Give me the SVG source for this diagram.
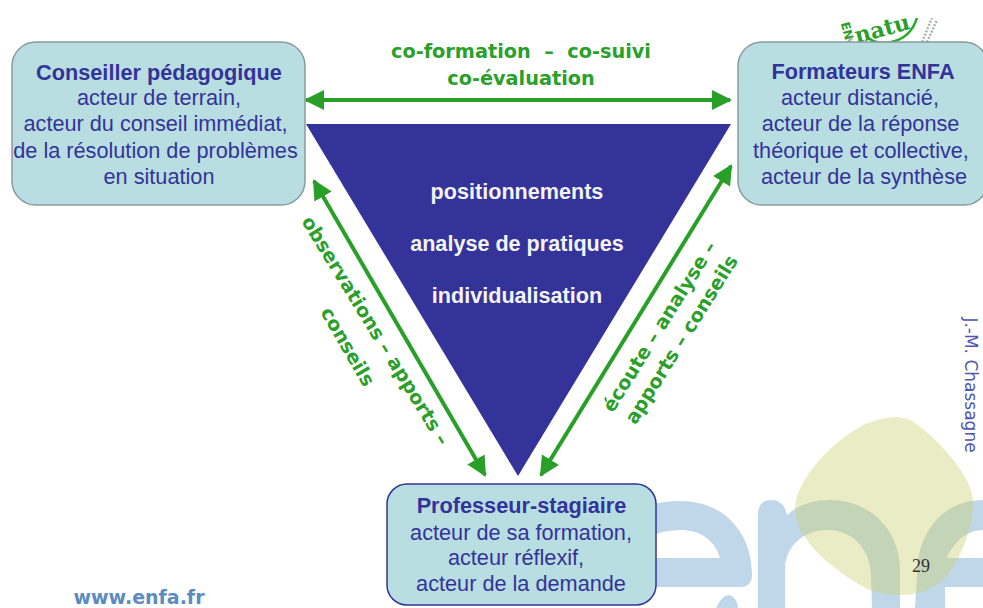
<svg xmlns="http://www.w3.org/2000/svg" width="983" height="608" viewBox="0 0 983 608">
<style>
.n{font-family:"Liberation Sans",Arial,sans-serif;font-size:21.7px;fill:#333399;text-anchor:middle}
.b{font-weight:700}
.box{fill:#b9dee2;stroke:#8a9aa0;stroke-width:1.5}
.g{font-family:"DejaVu Sans",Verdana,sans-serif;font-weight:700;font-size:19.3px;fill:#2aa02a;text-anchor:middle}
.w{font-family:"Liberation Sans",Arial,sans-serif;font-weight:700;font-size:21.6px;fill:#f4f4f8;text-anchor:middle}
.c{stroke:#28a028;stroke-width:4;fill:none;marker-start:url(#a);marker-end:url(#a)}
</style>
<defs>
<marker id="a" viewBox="0 0 10 10" refX="9" refY="5" markerWidth="5" markerHeight="5" orient="auto-start-reverse" markerUnits="strokeWidth"><path d="M0 0L10 5L0 10z" fill="#28a028"/></marker>
<clipPath id="lc"><rect x="820" y="18" width="140" height="30"/></clipPath>
</defs>
<rect width="983" height="608" fill="#fff"/>
<g id="background">
<path fill-rule="evenodd" fill="#c0d7e9" d="M650 505C680 497 715 500 735 525C748 540 752 560 752 575C752 583 748 587 740 587L650 587ZM650 558L720 558C715 540 700 530 680 530C670 530 660 532 650 536Z"/>
<path fill="#c0d7e9" d="M716 608Q722 595 729 595Q737 597 738 608Z"/>
<path fill="#c0d7e9" d="M785 608L785 570C785 545 805 530 827 530C852 530 870 548 871 575L872 608L900 608L900 570C900 530 870 500 830 500C812 500 798 505 787 515C785 505 780 500 771 500C762 500 758 506 758 514L758 608Z"/>
<path fill="#c0d7e9" d="M915 608L917 575C917 530 945 500 983 500L983 530C965 530 952 545 947 558L983 558L983 587L945 587L945 608Z"/>
<path d="M795 507C797 480 830 443 860 427C875 419 900 412 915 423C935 437 973 475 973 502C973 530 960 560 945 578C930 592 915 595 900 595C885 595 870 592 857 583C835 570 815 552 807 540C800 530 795 520 795 507Z" fill="#c8cf6b" fill-opacity=".4"/>
</g>
<g id="logo" clip-path="url(#lc)">
<path d="M866 36C875 47 908 47 917 18" fill="none" stroke="#2aa82a" stroke-width="2.5"/>
<text x="884" y="36" font-family="'DejaVu Serif',serif" font-weight="700" font-size="22" fill="#2aa02a" transform="rotate(-15 884 36)" text-anchor="middle">natu</text>
<text x="843" y="32" font-family="'DejaVu Sans',sans-serif" font-weight="700" font-size="12" fill="#2aa02a" transform="rotate(75 843 32)" text-anchor="middle">EN</text>
<path d="M922 42L932 18M927 42L937 20" stroke="#aab0aa" stroke-width="2.5" stroke-dasharray="2 1.5" fill="none"/>
<path d="M848 42L852 38" stroke="#aab0aa" stroke-width="2.5" fill="none"/>
</g>
<g id="connectors">
<path class="c" d="M306 100L730 100"/>
<path class="c" d="M314 181L485 475"/>
<path class="c" d="M731 166L541 475"/>
</g>
<g id="triangle">
<path d="M306 124L731 124L518 476Z" fill="#333399"/>
<text class="w" x="517" y="199">positionnements</text>
<text class="w" x="517" y="251">analyse de pratiques</text>
<text class="w" x="517" y="303">individualisation</text>
</g>
<g id="conseiller">
<rect class="box" x="12" y="42" width="293" height="163" rx="24"/>
<text class="n b" x="159" y="80">Conseiller pédagogique</text>
<text class="n" x="159" y="105">acteur de terrain,</text>
<text class="n" x="155.5" y="131">acteur du conseil immédiat,</text>
<text class="n" x="155.5" y="158">de la résolution de problèmes</text>
<text class="n" x="159" y="184">en situation</text>
</g>
<g id="formateurs">
<rect class="box" x="738" y="42" width="250" height="163" rx="24"/>
<text class="n b" x="863" y="79">Formateurs ENFA</text>
<text class="n" x="860" y="105">acteur distancié,</text>
<text class="n" x="860.5" y="131">acteur de la réponse</text>
<text class="n" x="861" y="158">théorique et collective,</text>
<text class="n" x="864" y="184">acteur de la synthèse</text>
</g>
<g id="professeur">
<rect x="387" y="484" width="269" height="121" rx="20" fill="#b9dee2" stroke="#333399" stroke-width="1.5"/>
<text class="n b" x="521.5" y="513">Professeur-stagiaire</text>
<text class="n" x="521" y="540">acteur de sa formation,</text>
<text class="n" x="516" y="565">acteur réflexif,</text>
<text class="n" x="521" y="591">acteur de la demande</text>
</g>
<g id="labels">
<text class="g" x="521" y="58" xml:space="preserve" style="white-space:pre">co-formation  –  co-suivi</text>
<text class="g" x="521" y="85">co-évaluation</text>
<text class="g" transform="translate(370 334) rotate(58.5)">observations – apports –</text>
<text class="g" transform="translate(342 350) rotate(60)">conseils</text>
<text class="g" transform="translate(665 330) rotate(-58)">écoute – analyse –</text>
<text class="g" transform="translate(687 343) rotate(-58)">apports – conseils</text>
</g>
<text x="139" y="604" font-family="'DejaVu Sans',Verdana,sans-serif" font-weight="700" font-size="19" fill="#5b8cc0" text-anchor="middle">www.enfa.fr</text>
<text transform="translate(965 385) rotate(90)" font-family="'DejaVu Sans',Verdana,sans-serif" font-size="17" fill="#4f55b0" text-anchor="middle">J.-M. Chassagne</text>
<text x="921" y="572" font-family="'Liberation Serif',serif" font-size="18" fill="#333" text-anchor="middle">29</text>
</svg>
